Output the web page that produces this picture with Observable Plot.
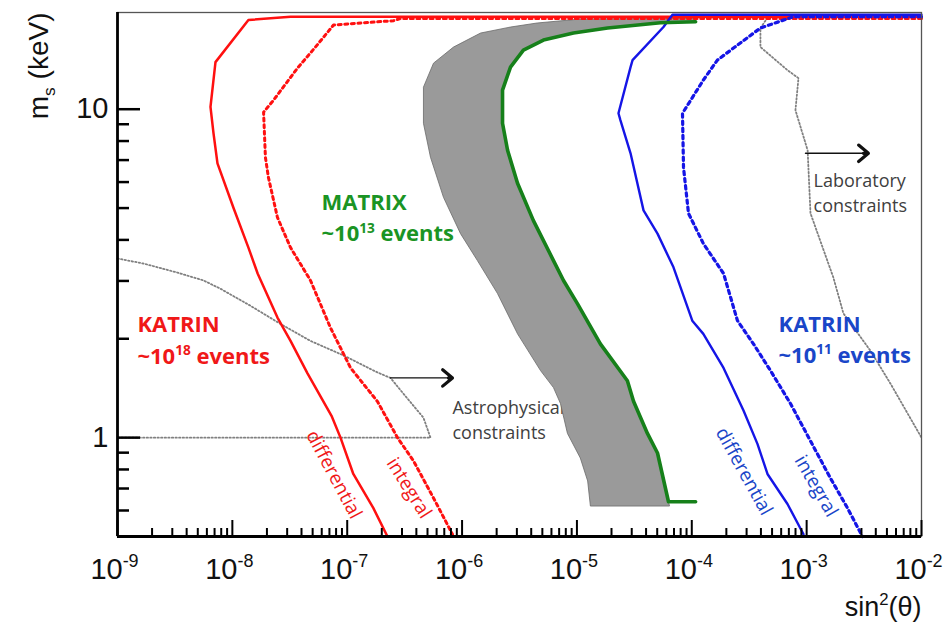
<!DOCTYPE html>
<html><head><meta charset="utf-8">
<script src="https://cdn.jsdelivr.net/npm/d3@7"></script>
<script src="https://cdn.jsdelivr.net/npm/@observablehq/plot@0.6"></script>
<style>body{margin:0;background:#fff} svg{display:block}</style>
</head><body><div id="chart"></div>
<script>
// ---- axis ticks ----
const xMajorTicks = [1e-9, 1e-8, 1e-7, 1e-6, 1e-5, 1e-4, 1e-3, 1e-2];
const xTickLabels = ["10^{-9}", "10^{-8}", "10^{-7}", "10^{-6}", "10^{-5}", "10^{-4}", "10^{-3}", "10^{-2}"];
const yMajorTicks = [1, 10];
const yTickLabels = ["1", "10"];
const yMinorTicks = [0.6, 0.7, 0.8, 0.9, 2, 3, 4, 5, 6, 7, 8, 9];

// ---- curves: [sin^2(theta), m_s (keV)] ----
const katrin18Diff = [[1e-2,19.13],[3.21e-8,19.13],[1.38e-8,18.69],[7.13e-9,13.91],[6.45e-9,10.16],[6.85e-9,8.45],[7.42e-9,6.84],[1.02e-8,5.02],[1.38e-8,3.79],[1.66e-8,3.16],[2.47e-8,2.32],[3.21e-8,1.97],[4.51e-8,1.57],[7.30e-8,1.165],[8.74e-8,1.0],[1.13e-7,0.775],[1.69e-7,0.61],[2.24e-7,0.5]];
const katrin18Int = [[1e-2,18.89],[2.91e-7,18.89],[2.53e-7,18.6],[7.6e-8,18.05],[5.29e-8,15.46],[3.69e-8,13.34],[3.08e-8,12.26],[2.28e-8,10.65],[1.87e-8,9.79],[1.94e-8,7.14],[2.06e-8,6.2],[2.47e-8,4.68],[3.21e-8,3.79],[4.79e-8,3.01],[7.15e-8,2.16],[1.07e-7,1.63],[1.83e-7,1.29],[2.74e-7,1.0],[3.78e-7,0.849],[5.64e-7,0.655],[8.25e-7,0.508]];
const katrin11Diff = [[1e-2,19.4],[6.79e-5,19.4],[5.67e-5,17.79],[3.05e-5,14.11],[2.93e-5,13.43],[2.30e-5,9.72],[2.39e-5,9.26],[2.93e-5,7.34],[3.80e-5,4.92],[5.03e-5,4.18],[6.93e-5,3.30],[1.01e-4,2.27],[1.26e-4,2.07],[1.89e-4,1.63],[2.82e-4,1.21],[3.73e-4,0.957],[4.56e-4,0.775],[6.81e-4,0.628],[9.39e-4,0.508]];
const katrin11Int = [[1e-2,19.13],[7.68e-4,19.13],[3.96e-4,17.67],[1.67e-4,14.11],[1.26e-4,12.26],[8.30e-5,9.72],[8.47e-5,6.65],[9.36e-5,4.82],[1.26e-4,3.90],[1.89e-4,3.16],[2.50e-4,2.27],[3.44e-4,1.93],[4.84e-4,1.60],[7.23e-4,1.27],[1.08e-3,0.977],[1.61e-3,0.753],[2.27e-3,0.61],[3.06e-3,0.5]];
const matrixLine = [[1.08e-4,0.638],[6.27e-5,0.638],[5.03e-5,0.898],[4.11e-5,1.03],[3.11e-5,1.29],[2.75e-5,1.49],[1.60e-5,1.93],[1.01e-5,2.56],[7.64e-6,3.01],[6.25e-6,3.46],[4.18e-6,4.58],[3.04e-6,5.95],[2.49e-6,7.50],[2.25e-6,9.06],[2.25e-6,11.43],[2.64e-6,13.43],[3.42e-6,15.14],[5.11e-6,16.24],[9.33e-6,17.06],[1.85e-5,17.67],[5.34e-5,18.34],[1.08e-4,18.47]];
const bandEdge = [[1.08e-4,18.92],[1.07e-5,18.82],[4.5e-6,18.3],[2.64e-6,17.79],[1.45e-6,17.06],[8.42e-7,15.46],[5.64e-7,13.81],[4.61e-7,11.67],[4.61e-7,9.06],[5.31e-7,7.14],[6.89e-7,5.39],[9.69e-7,4.18],[1.36e-6,3.46],[2.03e-6,2.75],[3.04e-6,2.07],[4.82e-6,1.60],[6.25e-6,1.42],[7.19e-6,1.27],[8.27e-6,1.03],[1.07e-5,0.867],[1.24e-5,0.738],[1.31e-5,0.619],[6.4e-5,0.619]];
const astroLimit = [[1e-9,3.51],[1.68e-9,3.39],[3.33e-9,3.18],[5.61e-9,3.01],[7.88e-9,2.84],[1.44e-8,2.52],[2.62e-8,2.22],[4.79e-8,1.97],[9.28e-8,1.78],[1.83e-7,1.58],[2.38e-7,1.52],[3.09e-7,1.36],[4.61e-7,1.15],[5.31e-7,1.0],[1e-9,1.0]];
const labLimit = [[4.38e-4,18.6],[3.96e-4,17.67],[3.96e-4,15.46],[6.81e-4,13.15],[8.49e-4,12.43],[7.99e-4,9.93],[1.02e-3,7.5],[1.08e-3,4.82],[1.71e-3,3.07],[2.09e-3,2.39],[3.59e-3,1.84],[5.37e-3,1.46],[1e-2,1.0]];
const arrows = [{x1:2.38e-7, x2:8.25e-7, y:1.52}, {x1:9.77e-4, x2:3.45e-3, y:7.34}];

// ---- derived ----
const xMinorTicks = [];
for (let i = 0; i < xMajorTicks.length - 1; i++) for (let k = 2; k <= 9; k++) xMinorTicks.push(k * xMajorTicks[i]);
const bandPoly = bandEdge.concat(matrixLine.slice(1));
const xTicks = xMajorTicks.map((v, i) => ({v, label: xTickLabels[i]}));
const yTicks = yMajorTicks.map((v, i) => ({v, label: yTickLabels[i]}));

const W = 949, H = 628, ML = 117, MR = 28, MT = 12, MB = 92;
const innerW = W - ML - MR, innerH = H - MT - MB;
const X = d => d[0], Y = d => d[1];
const annFont = "'Open Sans', 'Liberation Sans', sans-serif";
const axFont = "'Liberation Sans', Arial, sans-serif";
const red = "#ff1010", blue = "#1515e6", green = "#16801a";
const redT = "#f01818", blueT = "#1a46c8", greenT = "#1a9424", grayT = "#404040";
const dotted = {stroke: "#808080", strokeWidth: 1.8, strokeDasharray: "1.4,2.2"};

const lab = (arr, o) => Plot.text(arr, {x: "x", y: "y", text: "t", fontFamily: annFont, ...o});

const plot = Plot.plot({
  width: W, height: H, marginLeft: ML, marginRight: MR, marginTop: MT, marginBottom: MB,
  x: {type: "log", domain: [1e-9, 1e-2], axis: null},
  y: {type: "log", domain: [0.5, 19.7], axis: null},
  style: {background: "#fff", fontFamily: axFont, overflow: "visible"},
  marks: [
    // constraint texts (under the band)
    lab([{x: 8.25e-7, y: 1.18, t: "Astrophysical"}, {x: 8.25e-7, y: 0.991, t: "constraints"}],
        {textAnchor: "start", lineAnchor: "bottom", fontSize: 18, fill: grayT}),
    lab([{x: 1.15e-3, y: 5.78, t: "Laboratory"}, {x: 1.15e-3, y: 4.88, t: "constraints"}],
        {textAnchor: "start", lineAnchor: "bottom", fontSize: 18, fill: grayT}),
    // MATRIX band
    Plot.line(bandPoly, {x: X, y: Y, fill: "#9a9a9a", stroke: "#6a6a6a", strokeWidth: 0.8}),
    // constraint lines
    Plot.line(astroLimit, {x: X, y: Y, ...dotted}),
    Plot.line(labLimit, {x: X, y: Y, ...dotted}),
    // sensitivity curves
    Plot.line(katrin18Int, {x: X, y: Y, stroke: red, strokeWidth: 3, strokeDasharray: "3,3.6"}),
    Plot.line(katrin18Diff, {x: X, y: Y, stroke: red, strokeWidth: 2.5}),
    Plot.line(katrin11Diff, {x: X, y: Y, stroke: blue, strokeWidth: 2.4}),
    Plot.line(katrin11Int, {x: X, y: Y, stroke: blue, strokeWidth: 3.2, strokeDasharray: "3.4,3.8"}),
    Plot.line(matrixLine, {x: X, y: Y, stroke: green, strokeWidth: 3.6}),
    // arrows: thin shaft + thick head
    Plot.arrow(arrows, {x1: "x1", x2: "x2", y1: "y", y2: "y", stroke: "#111", strokeWidth: 1.4, headLength: 0}),
    Plot.arrow(arrows, {x1: "x1", x2: "x2", y1: "y", y2: "y", stroke: "#111", strokeWidth: 3.2, headLength: 6, headAngle: 80, insetStart: 58}),
    // experiment labels
    lab([{x: 5.97e-8, y: 4.92, t: "MATRIX"}, {x: 5.97e-8, y: 3.96, t: "~10^{13} events"}],
        {textAnchor: "start", lineAnchor: "bottom", fontSize: 22, fontWeight: "bold", fill: greenT}),
    lab([{x: 1.49e-9, y: 2.09, t: "KATRIN"}, {x: 1.49e-9, y: 1.68, t: "~10^{18} events"}],
        {textAnchor: "start", lineAnchor: "bottom", fontSize: 22, fontWeight: "bold", fill: redT}),
    lab([{x: 5.69e-4, y: 2.10, t: "KATRIN"}, {x: 5.69e-4, y: 1.69, t: "~10^{11} events"}],
        {textAnchor: "start", lineAnchor: "bottom", fontSize: 22, fontWeight: "bold", fill: blueT}),
    // curve labels (rotated)
    lab([{x: 7.67e-8, y: 0.772, t: "differential"}], {rotate: 62, fontSize: 19, fill: redT}),
    lab([{x: 3.45e-7, y: 0.702, t: "integral"}], {rotate: 58, fontSize: 19, fill: redT}),
    lab([{x: 2.85e-4, y: 0.789, t: "differential"}], {rotate: 61, fontSize: 19, fill: blueT}),
    lab([{x: 1.21e-3, y: 0.712, t: "integral"}], {rotate: 60, fontSize: 19, fill: blueT}),
    // frame and axes
    Plot.frame({stroke: "#555", strokeWidth: 1.3}),
    Plot.ruleX([1e-9], {stroke: "#000", strokeWidth: 2.8}),
    Plot.ruleY([0.5], {stroke: "#000", strokeWidth: 2.8}),
    Plot.tickX(xMinorTicks, {x: d => d, insetTop: innerH - 8, stroke: "#000", strokeWidth: 2}),
    Plot.tickX(xMajorTicks, {x: d => d, insetTop: innerH - 16, stroke: "#000", strokeWidth: 2}),
    Plot.tickY(yMinorTicks, {y: d => d, insetRight: innerW - 12, stroke: "#000", strokeWidth: 2.5}),
    Plot.tickY(yMajorTicks, {y: d => d, insetRight: innerW - 23, stroke: "#000", strokeWidth: 2.5}),
    Plot.text(xTicks, {x: "v", text: "label", frameAnchor: "bottom", dy: 42, dx: -3, lineAnchor: "bottom",
      fontSize: 29, fontFamily: "'Liberation Sans Narrow', 'Liberation Sans', Arial, sans-serif", fill: "#111"}),
    Plot.text(yTicks, {y: "v", text: "label", frameAnchor: "left", dx: -9, textAnchor: "end", lineAnchor: "middle",
      fontSize: 29, fontFamily: axFont, fill: "#111"}),
    Plot.text(["m_{s} (keV)"], {frameAnchor: "top-left", dx: -78, dy: 0, rotate: -90, textAnchor: "end", lineAnchor: "middle",
      fontSize: 28, fontFamily: axFont, fill: "#111"}),
    Plot.text(["sin^{2}(θ)"], {frameAnchor: "bottom-right", dy: 79, textAnchor: "end", lineAnchor: "bottom",
      fontSize: 27, fontFamily: axFont, fill: "#111"})
  ]
});

document.getElementById("chart").appendChild(plot);

// rich text: ^{...} superscript, _{...} subscript
function rich(svg) {
  for (const t of svg.querySelectorAll("text")) {
    const s = t.textContent;
    if (!/[\^_]\{/.test(s) || t.querySelector("tspan")) continue;
    const fs = parseFloat(getComputedStyle(t).fontSize);
    t.textContent = "";
    let shift = 0;
    for (const p of s.split(/([\^_]\{[^}]*\})/)) {
      if (!p) continue;
      const ts = document.createElementNS("http://www.w3.org/2000/svg", "tspan");
      let target = 0, str = p;
      if (p.startsWith("^{")) { target = -0.38 * fs; str = p.slice(2, -1); ts.setAttribute("font-size", (0.62 * fs) + "px"); }
      else if (p.startsWith("_{")) { target = 0.22 * fs; str = p.slice(2, -1); ts.setAttribute("font-size", (0.62 * fs) + "px"); }
      const dy = target - shift; shift = target;
      if (dy) ts.setAttribute("dy", dy.toFixed(2));
      ts.textContent = str;
      t.appendChild(ts);
    }
  }
}
rich(plot);
</script>
</body></html>
